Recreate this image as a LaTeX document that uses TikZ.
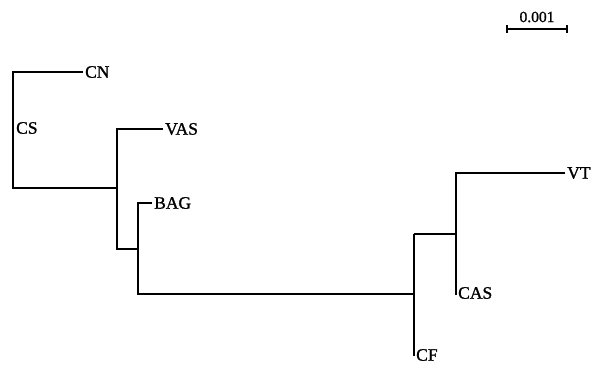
\documentclass[tikz,border=0pt]{standalone}
\usepackage{fontspec}
\setmainfont{Liberation Serif}
\newfontfamily\heavyserif[FakeBold=1.2]{Liberation Serif}
\begin{document}
\begin{tikzpicture}[x=1pt,y=-1pt,
  branch/.style={line width=1.6pt,line cap=square,line join=miter},
  taxon/.style={anchor=west,inner xsep=2pt,inner ysep=0pt,font=\heavyserif\fontsize{17.5}{19}\selectfont},
  scalelbl/.style={inner sep=0pt,font=\heavyserif\fontsize{15.5}{17}\selectfont}]
\clip (0,0) rectangle (593,365);
% labels
\node[taxon] (CN)  at (83,72)  {CN};
\node[taxon] (CS)  at (14,128) {CS};
\node[taxon] (VAS) at (163,129) {VAS};
\node[taxon] (BAG) at (152,203) {BAG};
\node[taxon] (VT)  at (565,173) {VT};
\node[taxon] (CAS) at (456,293) {CAS};
\node[taxon] (CF)  at (414,355) {CF};
% internal points
\coordinate (r1) at (13,72);
\coordinate (r2) at (13,188);
\coordinate (am) at (117,188);
\coordinate (a1) at (117,129);
\coordinate (a2) at (117,249);
\coordinate (b2) at (138,249);
\coordinate (b1) at (138,203);
\coordinate (b3) at (138,294);
\coordinate (cm) at (414,294);
\coordinate (c1) at (414,234);
\coordinate (c2) at (414,356);
\coordinate (d0) at (456,234);
\coordinate (d1) at (456,173);
\coordinate (d2) at (456,295);
% branches
\draw[branch] (CN.west) -- (r1) -- (r2) -- (am);
\draw[branch] (VAS.west) -- (a1) -- (a2) -- (b2);
\draw[branch] (BAG.west) -- (b1) -- (b3) -- (cm);
\draw[branch] (c1) -- (c2);
\draw[branch] (c1) -- (d0);
\draw[branch] (VT.west) -- (d1) -- (d2);
% scale bar
\coordinate (s1) at (507,29);
\coordinate (s2) at (567,29);
\node[scalelbl] (SL) at (537,17) {0.001};
\draw[line width=1.4pt] (s1) -- (s2);
\draw[line width=1.4pt] ([yshift=-4pt]s1) -- ([yshift=4pt]s1);
\draw[line width=1.4pt] ([yshift=-4pt]s2) -- ([yshift=4pt]s2);
\end{tikzpicture}
\end{document}
